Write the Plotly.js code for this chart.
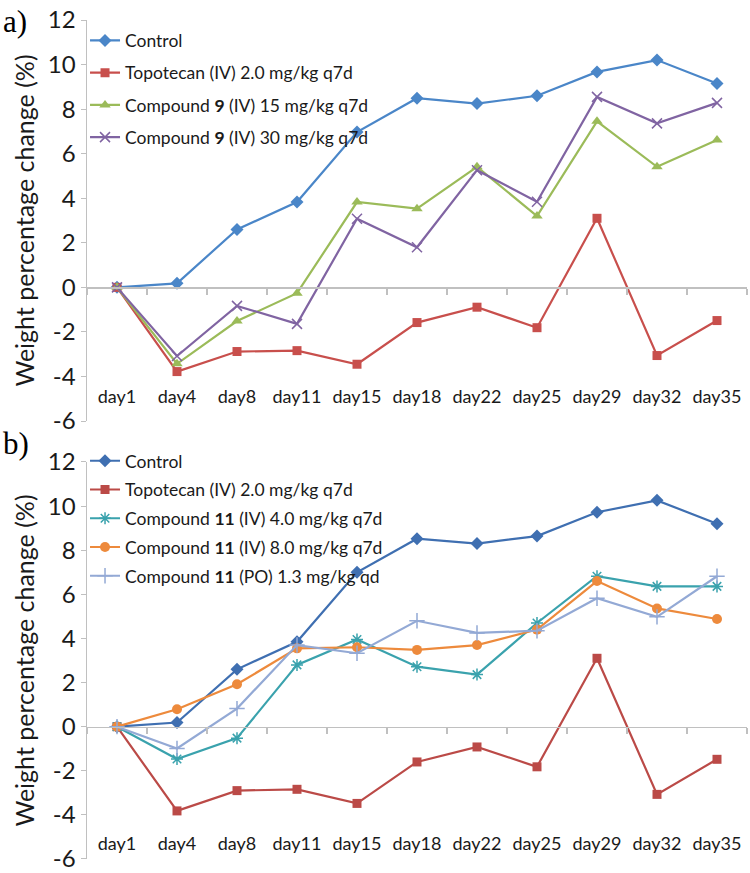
<!DOCTYPE html>
<html>
<head>
<meta charset="utf-8">
<script src="https://cdn.plot.ly/plotly-3.0.1.min.js"></script>
<style>html,body{margin:0;padding:0;background:#fff;}#chart{width:750px;height:873px;}</style>
</head>
<body>
<div id="chart"></div>
<script>
// ---- data ----
const days = ["day1","day4","day8","day11","day15","day18","day22","day25","day29","day32","day35"];
const yTicks = [-6,-4,-2,0,2,4,6,8,10,12];
const yTickText = ["-6","-4","-2","0","2","4","6","8","10","12"];

// Panel a
const a_control   = [0, 0.18, 2.6, 3.83, 6.97, 8.49, 8.25, 8.6, 9.67, 10.2, 9.15];
const a_topotecan = [0, -3.78, -2.88, -2.84, -3.45, -1.58, -0.89, -1.81, 3.1, -3.06, -1.49];
const a_cpd9_15   = [0, -3.43, -1.51, -0.26, 3.83, 3.53, 5.41, 3.2, 7.45, 5.41, 6.61];
const a_cpd9_30   = [0, -3.08, -0.83, -1.64, 3.08, 1.8, 5.26, 3.84, 8.55, 7.36, 8.28];

// Panel b
const b_control   = [0, 0.19, 2.6, 3.85, 7.0, 8.52, 8.3, 8.64, 9.72, 10.26, 9.2];
const b_topotecan = [0, -3.82, -2.9, -2.84, -3.48, -1.6, -0.92, -1.82, 3.1, -3.07, -1.48];
const b_cpd11_4   = [0, -1.47, -0.52, 2.8, 3.95, 2.72, 2.36, 4.7, 6.82, 6.36, 6.36];
const b_cpd11_8   = [0, 0.79, 1.92, 3.55, 3.6, 3.48, 3.7, 4.4, 6.6, 5.36, 4.88];
const b_cpd11_po  = [0, -0.99, 0.82, 3.7, 3.33, 4.8, 4.25, 4.35, 5.82, 4.98, 6.82];

const namesA = ["Control", "Topotecan (IV) 2.0 mg/kg q7d", "Compound <b>9</b> (IV) 15 mg/kg q7d", "Compound <b>9</b> (IV) 30 mg/kg q7d"];
const namesB = ["Control", "Topotecan (IV) 2.0 mg/kg q7d", "Compound <b>11</b> (IV) 4.0 mg/kg q7d", "Compound <b>11</b> (IV) 8.0 mg/kg q7d", "Compound <b>11</b> (PO) 1.3 mg/kg qd"];
const yTitle = "Weight percentage change (%)";

// ---- styling ----
const FONT = "Lato, 'Open Sans', sans-serif";
const AXC = "#c0c0c0";
const yRange = [-6, 12];
const domA = [0.522, 1.0];
const domB = [0.0, 0.4732];

function zeroPos(dom){ return dom[0] + (dom[1]-dom[0]) * (0 - yRange[0]) / (yRange[1]-yRange[0]); }

function tr(y, name, color, symbol, xa, ya, leg, grp, msize){
  const open = symbol.indexOf('open') >= 0;
  return {
    x: days, y: y, name: name, type: 'scatter', mode: 'lines+markers',
    xaxis: xa, yaxis: ya, legend: leg, legendgroup: grp,
    line: {color: color, width: 2.2},
    marker: {symbol: symbol, size: msize || 9, color: color, line: {color: color, width: open ? 1.5 : 0}}
  };
}

const data = [
  tr(a_control,   namesA[0], "#4a86c8", "diamond", "x", "y", "legend", "a0", 10),
  tr(a_topotecan, namesA[1], "#c84f4c", "square", "x", "y", "legend", "a1", 9),
  tr(a_cpd9_15,   namesA[2], "#9bbb59", "triangle-up", "x", "y", "legend", "a2", 10),
  tr(a_cpd9_30,   namesA[3], "#8064a2", "x-thin-open", "x", "y", "legend", "a3", 10),
  tr(b_control,   namesB[0], "#3f6fb1", "diamond", "x2", "y2", "legend2", "b0", 10),
  tr(b_topotecan, namesB[1], "#bb4a47", "square", "x2", "y2", "legend2", "b1", 9),
  tr(b_cpd11_4,   namesB[2], "#3aa2ad", "asterisk-open", "x2", "y2", "legend2", "b2", 10),
  tr(b_cpd11_8,   namesB[3], "#ed8a3c", "circle", "x2", "y2", "legend2", "b3", 10),
  tr(b_cpd11_po,  namesB[4], "#93a9d5", "cross-thin-open", "x2", "y2", "legend2", "b4", 11)
];

function xAxis(dom, standoff){
  return {
    type: 'category', categoryarray: days, categoryorder: 'array',
    range: [-0.5, days.length - 0.5], domain: [0, 1],
    anchor: 'free', position: zeroPos(dom),
    showline: true, linecolor: AXC, linewidth: 1.5,
    ticks: 'outside', tickson: 'boundaries', ticklen: 6, tickcolor: AXC, tickwidth: 1.2,
    ticklabelstandoff: standoff, tickangle: 0, ticklabeloverflow: 'allow',
    showgrid: false, zeroline: false,
    tickfont: {family: FONT, size: 18, color: '#1a1a1a'}
  };
}
function yAxis(dom, xa){
  return {
    domain: dom, range: yRange, tickvals: yTicks, ticktext: yTickText, anchor: xa,
    showline: true, linecolor: AXC, linewidth: 1.5,
    ticks: 'outside', ticklen: 5, tickcolor: AXC, ticklabeloverflow: 'allow',
    showgrid: false, zeroline: false,
    tickfont: {family: FONT, size: 24, color: '#1a1a1a'},
    title: {text: yTitle, font: {family: FONT, size: 25, color: '#1a1a1a'}, standoff: 6}
  };
}

const layout = {
  width: 750, height: 873,
  margin: {l: 87, r: 3, t: 20, b: 14},
  paper_bgcolor: '#fff', plot_bgcolor: '#fff',
  showlegend: true,
  xaxis: xAxis(domA, 93),
  yaxis: yAxis(domA, 'x'),
  xaxis2: xAxis(domB, 100),
  yaxis2: yAxis(domB, 'x2'),
  legend: {x: -0.003, y: 0.997, xanchor: 'left', yanchor: 'top', bgcolor: 'rgba(0,0,0,0)',
           font: {family: FONT, size: 17.5, color: '#1a1a1a'}, tracegroupgap: 6.5, itemwidth: 30},
  legend2: {x: -0.003, y: 0.496, xanchor: 'left', yanchor: 'top', bgcolor: 'rgba(0,0,0,0)',
           font: {family: FONT, size: 17.5, color: '#1a1a1a'}, tracegroupgap: 3, itemwidth: 30},
  annotations: [
    {text: 'a)', xref: 'paper', yref: 'paper', x: -0.13, y: 1.022, xanchor: 'left', yanchor: 'top',
     showarrow: false, font: {family: "'Liberation Serif', 'Times New Roman', serif", size: 31, color: '#000'}},
    {text: 'b)', xref: 'paper', yref: 'paper', x: -0.13, y: 0.518, xanchor: 'left', yanchor: 'top',
     showarrow: false, font: {family: "'Liberation Serif', 'Times New Roman', serif", size: 31, color: '#000'}}
  ]
};

Plotly.newPlot('chart', data, layout, {displayModeBar: false, staticPlot: true});
</script>
</body>
</html>
